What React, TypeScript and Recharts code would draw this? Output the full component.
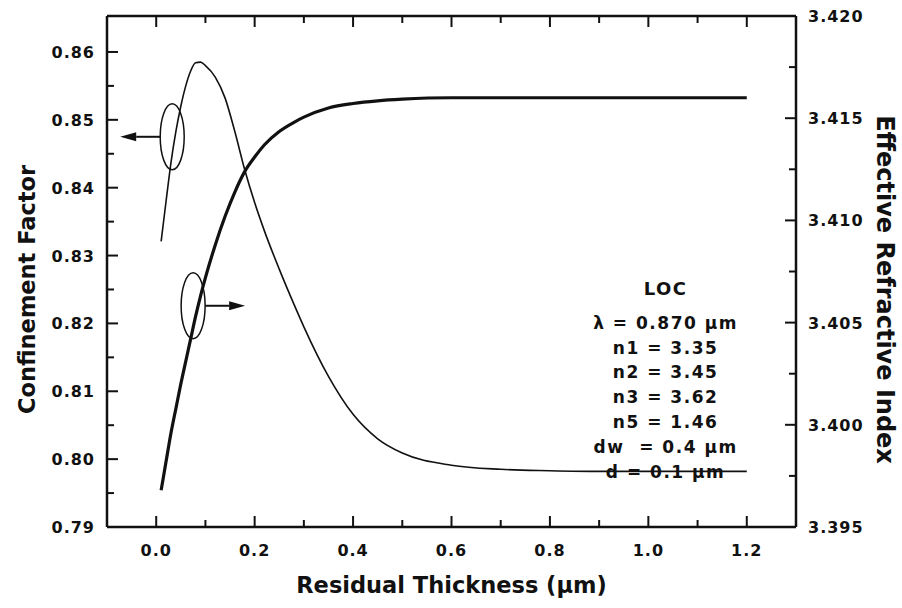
import { LineChart, Line, XAxis, YAxis, ReferenceDot } from 'recharts'

// residual thickness (µm)
const thickness = [0.01, 0.02, 0.03, 0.04, 0.05, 0.06, 0.07, 0.08, 0.09, 0.10, 0.12, 0.14, 0.16, 0.18, 0.20, 0.22, 0.25, 0.28, 0.30, 0.35, 0.40, 0.45, 0.50, 0.60, 0.70, 0.80, 0.90, 1.00, 1.10, 1.20]
// confinement factor (left axis, thin line)
const confinement = [0.8321, 0.8380, 0.8437, 0.8483, 0.8520, 0.8550, 0.8572, 0.8584, 0.8585, 0.8580, 0.8563, 0.8532, 0.8482, 0.8426, 0.8378, 0.8336, 0.8280, 0.8228, 0.8195, 0.8122, 0.8066, 0.8030, 0.8009, 0.7991, 0.7985, 0.7983, 0.7982, 0.7982, 0.7982, 0.7982]
// effective refractive index (right axis, thick line)
const effIndex = [3.3968, 3.3982, 3.3996, 3.4008, 3.4020, 3.4031, 3.4042, 3.4053, 3.4063, 3.4072, 3.4088, 3.4102, 3.4114, 3.4124, 3.4131, 3.4137, 3.41435, 3.4148, 3.41505, 3.4155, 3.41572, 3.41585, 3.41593, 3.4160, 3.4160, 3.4160, 3.4160, 3.4160, 3.4160, 3.4160]

const xTicks = [0, 0.1, 0.2, 0.3, 0.4, 0.5, 0.6, 0.7, 0.8, 0.9, 1.0, 1.1, 1.2]
const leftTicks = [0.79, 0.795, 0.8, 0.805, 0.81, 0.815, 0.82, 0.825, 0.83, 0.835, 0.84, 0.845, 0.85, 0.855, 0.86]
const rightTicks = [3.395, 3.3975, 3.4, 3.4025, 3.405, 3.4075, 3.41, 3.4125, 3.415, 3.4175, 3.42]

const params = ['λ = 0.870 µm', 'n1 = 3.35', 'n2 = 3.45', 'n3 = 3.62', 'n5 = 1.46', 'dw\u00a0 = 0.4 µm', 'd = 0.1 µm']

const data = thickness.map((x, i) => ({ x, conf: confinement[i], neff: effIndex[i] }))

const INK = '#111'
const FONT = '"DejaVu Sans", sans-serif'
const tickText = { fontFamily: FONT, fontWeight: 700, fontSize: 16, letterSpacing: 1, fill: INK }
const titleText = { fontFamily: FONT, fontWeight: 700, fill: INK }

function LeftTick({ x, y, payload }: any) {
  const v = payload.value
  const major = Math.round(v * 1000) % 10 === 0
  return (
    <g>
      <line x1={x} x2={x + (major ? 11 : 7)} y1={y} y2={y} stroke={INK} strokeWidth={2} />
      {major && <text x={x - 12} y={y + 6} textAnchor="end" style={tickText}>{v.toFixed(2)}</text>}
    </g>
  )
}

function RightTick({ x, y, payload }: any) {
  const v = payload.value
  const major = Math.round(v * 10000) % 50 === 0
  return (
    <g>
      <line x1={x} x2={x - (major ? 11 : 7)} y1={y} y2={y} stroke={INK} strokeWidth={2} />
      {major && <text x={x + 12} y={y + 6} textAnchor="start" style={tickText}>{v.toFixed(3)}</text>}
    </g>
  )
}

function BottomTick({ x, y, payload }: any) {
  const v = payload.value
  const major = Math.round(v * 10) % 2 === 0
  return (
    <g>
      <line x1={x} x2={x} y1={y} y2={y - (major ? 11 : 7)} stroke={INK} strokeWidth={2} />
      {major && <text x={x} y={y + 29} textAnchor="middle" style={tickText}>{v.toFixed(1)}</text>}
    </g>
  )
}

function TopTick({ x, y, payload }: any) {
  const major = Math.round(payload.value * 10) % 2 === 0
  return <line x1={x} x2={x} y1={y} y2={y + (major ? 11 : 7)} stroke={INK} strokeWidth={2} />
}

// ellipse around a curve with an arrow pointing to its axis
function Marker({ cx, cy, dir }: { cx: number; cy: number; dir: number }) {
  const start = cx + dir * 12
  const tip = cx + dir * 52
  const back = tip - dir * 16
  return (
    <g>
      <ellipse cx={cx} cy={cy} rx={12} ry={33} fill="none" stroke={INK} strokeWidth={1.5} />
      <line x1={start} x2={back} y1={cy} y2={cy} stroke={INK} strokeWidth={2} />
      <polygon points={`${tip},${cy} ${back},${cy - 4.5} ${back},${cy + 4.5}`} fill={INK} />
    </g>
  )
}

function ParamBlock({ cx, cy }: { cx: number; cy: number }) {
  const style = { fontFamily: FONT, fontWeight: 700, fontSize: 17, letterSpacing: 1.5, fill: INK }
  return (
    <g>
      <text x={cx} y={cy + 6} textAnchor="middle" style={{ ...style, fontSize: 18 }}>LOC</text>
      {params.map((p, i) => (
        <text key={p} x={cx} y={cy + 40 + i * 24.8} textAnchor="middle" style={style}>{p}</text>
      ))}
    </g>
  )
}

export default function App() {
  return (
    <div style={{ position: 'absolute', left: 0, top: 0, width: 902, height: 608, background: '#fff' }}>
      <LineChart width={902} height={608} data={data} margin={{ top: 15, right: 0, bottom: 0, left: 0 }}>
        <XAxis
          xAxisId="bottom" type="number" dataKey="x" domain={[-0.1, 1.3]} allowDataOverflow
          ticks={xTicks} interval={0} height={81} tickSize={0} tickMargin={0} tickLine={false}
          tick={BottomTick} axisLine={{ stroke: INK, strokeWidth: 2.5 }}
          label={{
            content: ({ viewBox }: any) => (
              <text x={viewBox.x + viewBox.width / 2} y={viewBox.y + 66} textAnchor="middle" style={{ ...titleText, fontSize: 22.5 }}>
                Residual Thickness (µm)
              </text>
            ),
          }}
        />
        <XAxis
          xAxisId="top" orientation="top" type="number" dataKey="x" domain={[-0.1, 1.3]} allowDataOverflow
          ticks={xTicks} interval={0} height={1} tickSize={0} tickMargin={0} tickLine={false}
          tick={TopTick} axisLine={{ stroke: INK, strokeWidth: 2.5 }}
        />
        <YAxis
          yAxisId="left" type="number" domain={[0.79, 0.8653]} allowDataOverflow
          ticks={leftTicks} interval={0} width={107} tickSize={0} tickMargin={0} tickLine={false}
          tick={LeftTick} axisLine={{ stroke: INK, strokeWidth: 2.5 }}
          label={{
            content: ({ viewBox }: any) => {
              const cy = viewBox.y + viewBox.height / 2 + 18
              return (
                <text x={27} y={cy} transform={`rotate(-90 27 ${cy})`} textAnchor="middle" dominantBaseline="central" style={{ ...titleText, fontSize: 22.5 }}>
                  Confinement Factor
                </text>
              )
            },
          }}
        />
        <YAxis
          yAxisId="right" orientation="right" type="number" domain={[3.395, 3.42]} allowDataOverflow
          ticks={rightTicks} interval={0} width={106} tickSize={0} tickMargin={0} tickLine={false}
          tick={RightTick} axisLine={{ stroke: INK, strokeWidth: 2.5 }}
          label={{
            content: ({ viewBox }: any) => {
              const cy = viewBox.y + viewBox.height / 2 + 18
              return (
                <text x={885} y={cy} transform={`rotate(90 885 ${cy})`} textAnchor="middle" dominantBaseline="central" style={{ ...titleText, fontSize: 24 }}>
                  Effective Refractive Index
                </text>
              )
            },
          }}
        />
        <ReferenceDot
          xAxisId="bottom" yAxisId="left" x={1.035} y={0.8251} ifOverflow="visible"
          shape={(p: any) => <ParamBlock cx={p.cx} cy={p.cy} />}
        />
        <Line
          xAxisId="bottom" yAxisId="left" type="monotone" dataKey="conf"
          stroke={INK} strokeWidth={1.6} dot={false} isAnimationActive={false}
        />
        <Line
          xAxisId="bottom" yAxisId="right" type="monotone" dataKey="neff"
          stroke={INK} strokeWidth={3.2} dot={false} isAnimationActive={false}
        />
        <ReferenceDot
          xAxisId="bottom" yAxisId="left" x={0.0325} y={0.8475} ifOverflow="visible"
          shape={(p: any) => <Marker cx={p.cx} cy={p.cy} dir={-1} />}
        />
        <ReferenceDot
          xAxisId="bottom" yAxisId="left" x={0.075} y={0.8226} ifOverflow="visible"
          shape={(p: any) => <Marker cx={p.cx} cy={p.cy} dir={1} />}
        />
      </LineChart>
    </div>
  )
}
